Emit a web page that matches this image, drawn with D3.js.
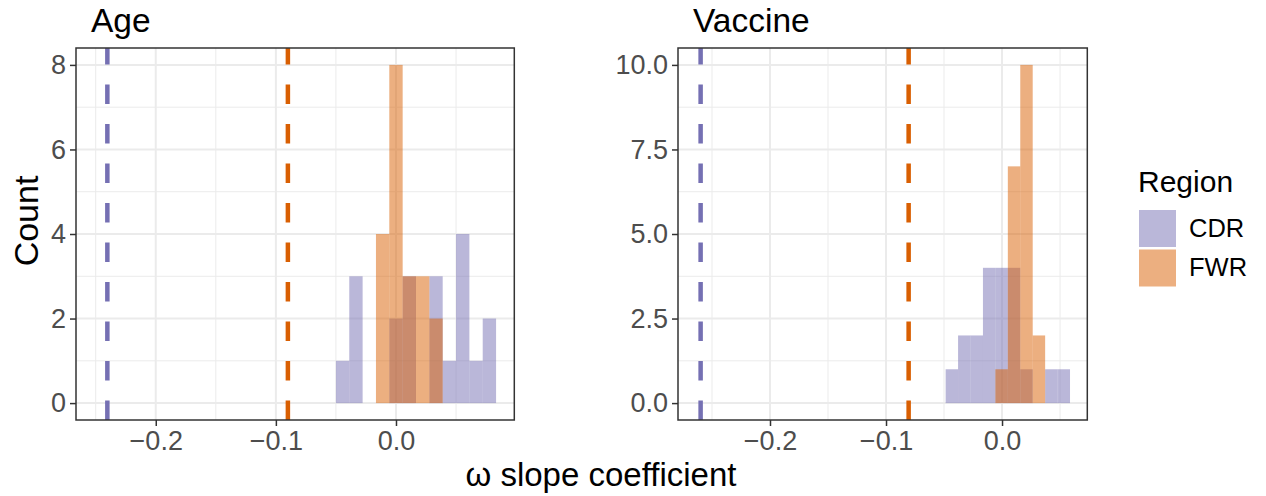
<!DOCTYPE html>
<html>
<head>
<meta charset="utf-8">
<script src="https://cdn.jsdelivr.net/npm/d3@7"></script>
<style>
  html, body { margin: 0; padding: 0; background: #ffffff; }
  text { font-family: "Liberation Sans", Arial, Helvetica, sans-serif; }
</style>
</head>
<body>
<svg id="chart" width="1266" height="496"></svg>
<script>
// Region groups and their colours
const regions = ["CDR", "FWR"];
const regionColors = ["#7570b3", "#d95f02"];

// Age panel: histogram bins (lower edge of first bin + bin width) and counts per region
const ageBinStart = -0.05;
const ageBinWidth = 0.01111;
const ageCDRCounts = [1, 3, 0, 0, 2, 3, 0, 3, 1, 4, 1, 2];
const ageFWRCounts = [0, 0, 0, 4, 8, 3, 3, 2, 0, 0, 0, 0];
const ageRefLines = [-0.2403, -0.0900];   // CDR, FWR

// Vaccine panel
const vacBinStart = -0.0486;
const vacBinWidth = 0.01072;
const vacCDRCounts = [1, 2, 2, 4, 4, 4, 1, 0, 1, 1];
const vacFWRCounts = [0, 0, 0, 0, 1, 7, 10, 2, 0, 0];
const vacRefLines = [-0.2598, -0.0805];   // CDR, FWR

// Axis ticks
const xTicks = [-0.2, -0.1, 0.0];
const xMinorTicks = [-0.25, -0.15, -0.05, 0.05];
const ageYTicks = [0, 2, 4, 6, 8];
const ageYMinor = [1, 3, 5, 7];
const vacYTicks = [0, 2.5, 5, 7.5, 10];
const vacYMinor = [1.25, 3.75, 6.25, 8.75];

const panels = [
  {
    title: "Age", binStart: ageBinStart, binWidth: ageBinWidth,
    counts: [ageCDRCounts, ageFWRCounts], refLines: ageRefLines,
    xDomain: [-0.2664, 0.0985], xRange: [76, 514.3],
    yDomain: [-0.4, 8.4], yTicks: ageYTicks, yMinor: ageYMinor, yFmt: d3.format("d")
  },
  {
    title: "Vaccine", binStart: vacBinStart, binWidth: vacBinWidth,
    counts: [vacCDRCounts, vacFWRCounts], refLines: vacRefLines,
    xDomain: [-0.2793, 0.0735], xRange: [678, 1087.3],
    yDomain: [-0.5, 10.5], yTicks: vacYTicks, yMinor: vacYMinor, yFmt: d3.format(".1f")
  }
];

const panelTop = 48, panelBottom = 420;
const svg = d3.select("#chart");
const gridColor = "#ebebeb";
const inkColor = "#333333";
const tickTextColor = "#4d4d4d";
const xFmt = d3.format(".1f");

panels.forEach(p => {
  const x = d3.scaleLinear().domain(p.xDomain).range(p.xRange);
  const y = d3.scaleLinear().domain(p.yDomain).range([panelBottom, panelTop]);
  const g = svg.append("g");

  // panel background
  g.append("rect")
    .attr("x", p.xRange[0]).attr("y", panelTop)
    .attr("width", p.xRange[1] - p.xRange[0]).attr("height", panelBottom - panelTop)
    .attr("fill", "#ffffff");

  // minor grid
  g.append("g").selectAll("line")
    .data(xMinorTicks.filter(v => v > p.xDomain[0] && v < p.xDomain[1]))
    .join("line")
    .attr("x1", d => x(d)).attr("x2", d => x(d))
    .attr("y1", panelTop).attr("y2", panelBottom)
    .attr("stroke", gridColor).attr("stroke-width", 1);
  g.append("g").selectAll("line").data(p.yMinor).join("line")
    .attr("y1", d => y(d)).attr("y2", d => y(d))
    .attr("x1", p.xRange[0]).attr("x2", p.xRange[1])
    .attr("stroke", gridColor).attr("stroke-width", 1);
  // major grid
  g.append("g").selectAll("line").data(xTicks).join("line")
    .attr("x1", d => x(d)).attr("x2", d => x(d))
    .attr("y1", panelTop).attr("y2", panelBottom)
    .attr("stroke", gridColor).attr("stroke-width", 2);
  g.append("g").selectAll("line").data(p.yTicks).join("line")
    .attr("y1", d => y(d)).attr("y2", d => y(d))
    .attr("x1", p.xRange[0]).attr("x2", p.xRange[1])
    .attr("stroke", gridColor).attr("stroke-width", 2);

  // histogram bars, CDR first then FWR on top
  p.counts.forEach((counts, ri) => {
    const bins = counts.map((c, i) => ({
      x0: p.binStart + i * p.binWidth,
      x1: p.binStart + (i + 1) * p.binWidth,
      c
    }));
    g.append("g").selectAll("rect").data(bins).join("rect")
      .attr("x", d => x(d.x0))
      .attr("width", d => x(d.x1) - x(d.x0))
      .attr("y", d => y(d.c))
      .attr("height", d => y(0) - y(d.c))
      .attr("fill", regionColors[ri])
      .attr("fill-opacity", 0.5);
  });

  // dashed reference lines per region
  g.append("g").selectAll("line").data(p.refLines).join("line")
    .attr("x1", d => x(d)).attr("x2", d => x(d))
    .attr("y1", panelBottom).attr("y2", panelTop)
    .attr("stroke", (d, i) => regionColors[i])
    .attr("stroke-width", 4.5)
    .attr("stroke-dasharray", "19.5,20");

  // panel border
  g.append("rect")
    .attr("x", p.xRange[0]).attr("y", panelTop)
    .attr("width", p.xRange[1] - p.xRange[0]).attr("height", panelBottom - panelTop)
    .attr("fill", "none").attr("stroke", inkColor).attr("stroke-width", 1.5);

  // x axis
  const xAxis = d3.axisBottom(x).tickValues(xTicks).tickFormat(xFmt)
    .tickSize(6).tickPadding(5);
  const xa = g.append("g").attr("transform", `translate(0,${panelBottom})`).call(xAxis);
  xa.select(".domain").remove();
  xa.selectAll(".tick line").attr("stroke", inkColor).attr("stroke-width", 1.5);
  xa.selectAll(".tick text").attr("fill", tickTextColor)
    .style("font-size", "27px").attr("font-family", null);

  // y axis
  const yAxis = d3.axisLeft(y).tickValues(p.yTicks).tickFormat(p.yFmt)
    .tickSize(6).tickPadding(4);
  const ya = g.append("g").attr("transform", `translate(${p.xRange[0]},0)`).call(yAxis);
  ya.select(".domain").remove();
  ya.selectAll(".tick line").attr("stroke", inkColor).attr("stroke-width", 1.5);
  ya.selectAll(".tick text").attr("fill", tickTextColor)
    .style("font-size", "27px").attr("font-family", null);

  // facet title
  g.append("text")
    .attr("x", p.xRange[0] + 15).attr("y", 31.5)
    .attr("fill", "#000000")
    .style("font-size", "33.5px")
    .text(p.title);
});

// axis titles
svg.append("text")
  .attr("x", 601).attr("y", 486)
  .attr("text-anchor", "middle")
  .style("font-size", "33px")
  .text("ω slope coefficient");

svg.append("text")
  .attr("transform", "translate(38,221) rotate(-90)")
  .attr("text-anchor", "middle")
  .style("font-size", "34px")
  .text("Count");

// legend
const legend = svg.append("g");
legend.append("text")
  .attr("x", 1138).attr("y", 192)
  .style("font-size", "30px")
  .text("Region");
regions.forEach((r, i) => {
  const ky = 210 + i * 39.5;
  legend.append("rect")
    .attr("x", 1139).attr("y", ky)
    .attr("width", 37).attr("height", 37)
    .attr("fill", regionColors[i]).attr("fill-opacity", 0.5);
  legend.append("text")
    .attr("x", 1189).attr("y", ky + 26.5)
    .style("font-size", "25.5px")
    .text(r);
});
</script>
</body>
</html>
